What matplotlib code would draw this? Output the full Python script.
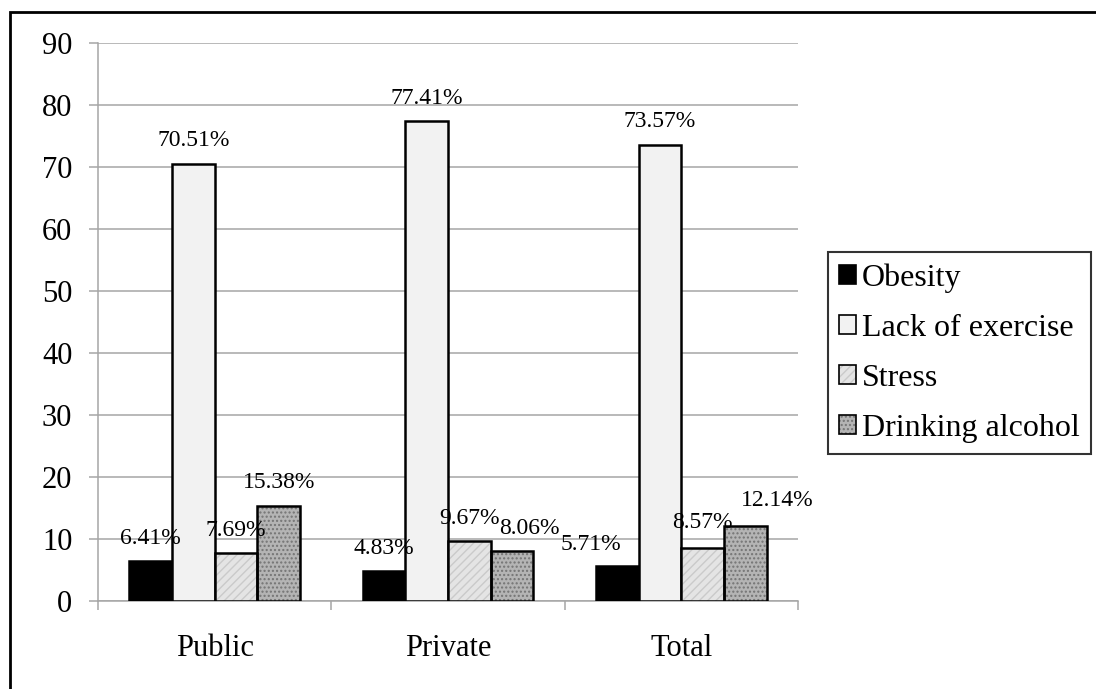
import numpy as np
import matplotlib
matplotlib.use("Agg")
from matplotlib import pyplot as plt
from matplotlib.patches import Patch, Rectangle
from matplotlib.legend_handler import HandlerTuple

plt.rcParams['font.family'] = ['Liberation Serif', 'DejaVu Serif']
plt.rcParams['hatch.linewidth'] = 1.0

groups = ["Public", "Private", "Total"]
causes = ["Obesity", "Lack of exercise", "Stress", "Drinking alcohol"]
obesity = [6.41, 4.83, 5.71]
lack_of_exercise = [70.51, 77.41, 73.57]
stress = [7.69, 9.67, 8.57]
drinking_alcohol = [15.38, 8.06, 12.14]
series = [obesity, lack_of_exercise, stress, drinking_alcohol]

# fill, hatch, hatch colour per cause
styles = [("#000000", None, None),
          ("#f2f2f2", None, None),
          ("#e4e4e4", "////", "#cacaca"),
          ("#b4b4b4", "....", "#747474")]

# nudges (pixels) for labels that sit off their bar
label_shift = {(1, 3): (17, 0), (2, 0): (-26, -2), (2, 3): (32, 2), (2, 2): (0, 2)}

fig = plt.figure(figsize=(10.96, 6.89), dpi=100)
ax = fig.add_axes([98 / 1096, 88 / 689, 700 / 1096, 558 / 689])

x = np.arange(len(groups))
w = 0.183
handles = []
for k, (vals, (fc, hatch, hc)) in enumerate(zip(series, styles)):
    pos = x + (k - 1.5) * w
    if hatch:
        ax.bar(pos, vals, w, color=fc, hatch=hatch, edgecolor=hc, linewidth=0, zorder=3)
        ax.bar(pos, vals, w, facecolor="none", edgecolor="black", linewidth=1.8, zorder=4)
        h = (Patch(facecolor=fc, hatch=hatch, edgecolor=hc, linewidth=0),
             Patch(facecolor="none", edgecolor="black", linewidth=1.2))
    else:
        ax.bar(pos, vals, w, color=fc, edgecolor="black", linewidth=1.8, zorder=3)
        h = Patch(facecolor=fc, edgecolor="black", linewidth=1.2)
    handles.append(h)
    for i, v in enumerate(vals):
        dx, dy = label_shift.get((i, k), (0, 0))
        ax.annotate(f"{v:.2f}%", xy=(pos[i], v), xytext=(dx, 23 + dy),
                    textcoords="offset pixels", ha="center", va="center",
                    fontsize=17, zorder=5)

ax.set_xlim(-0.5, 2.5)
ax.set_ylim(0, 90)
ax.set_yticks(range(0, 91, 10))
ax.yaxis.grid(True, color="#a6a6a6", linewidth=1.1, zorder=0)
ax.set_axisbelow(True)

ax.set_xticks(x)
ax.set_xticklabels(groups)
ax.set_xticks([-0.5, 0.5, 1.5, 2.5], minor=True)
ax.tick_params(axis="x", which="major", length=0, pad=24, labelsize=22)
ax.tick_params(axis="x", which="minor", length=9 * 0.72, width=1.1, color="#a6a6a6")
ax.tick_params(axis="y", length=9 * 0.72, width=1.1, color="#a6a6a6", pad=12, labelsize=22)

for side in ("top", "right"):
    ax.spines[side].set_visible(False)
for side in ("left", "bottom"):
    ax.spines[side].set_color("#a6a6a6")
    ax.spines[side].set_linewidth(1.1)

leg = fig.legend(handles, causes, loc="upper left",
                 bbox_to_anchor=(828 / 1096, 1 - 252 / 689),
                 fontsize=23, frameon=True, fancybox=False,
                 handlelength=0.52, handleheight=0.52, handletextpad=0.2,
                 borderpad=0.35, labelspacing=0.66, borderaxespad=0,
                 handler_map={tuple: HandlerTuple(ndivide=1)})
leg.get_frame().set_edgecolor("black")
leg.get_frame().set_linewidth(1.5)

# outer frame around the chart area
fig.patches.append(Rectangle((10 / 1096, -0.1), 1.2, 1.1 - 12 / 689,
                             transform=fig.transFigure, fill=False,
                             edgecolor="black", linewidth=2))

fig.savefig("out.png", dpi=100)
